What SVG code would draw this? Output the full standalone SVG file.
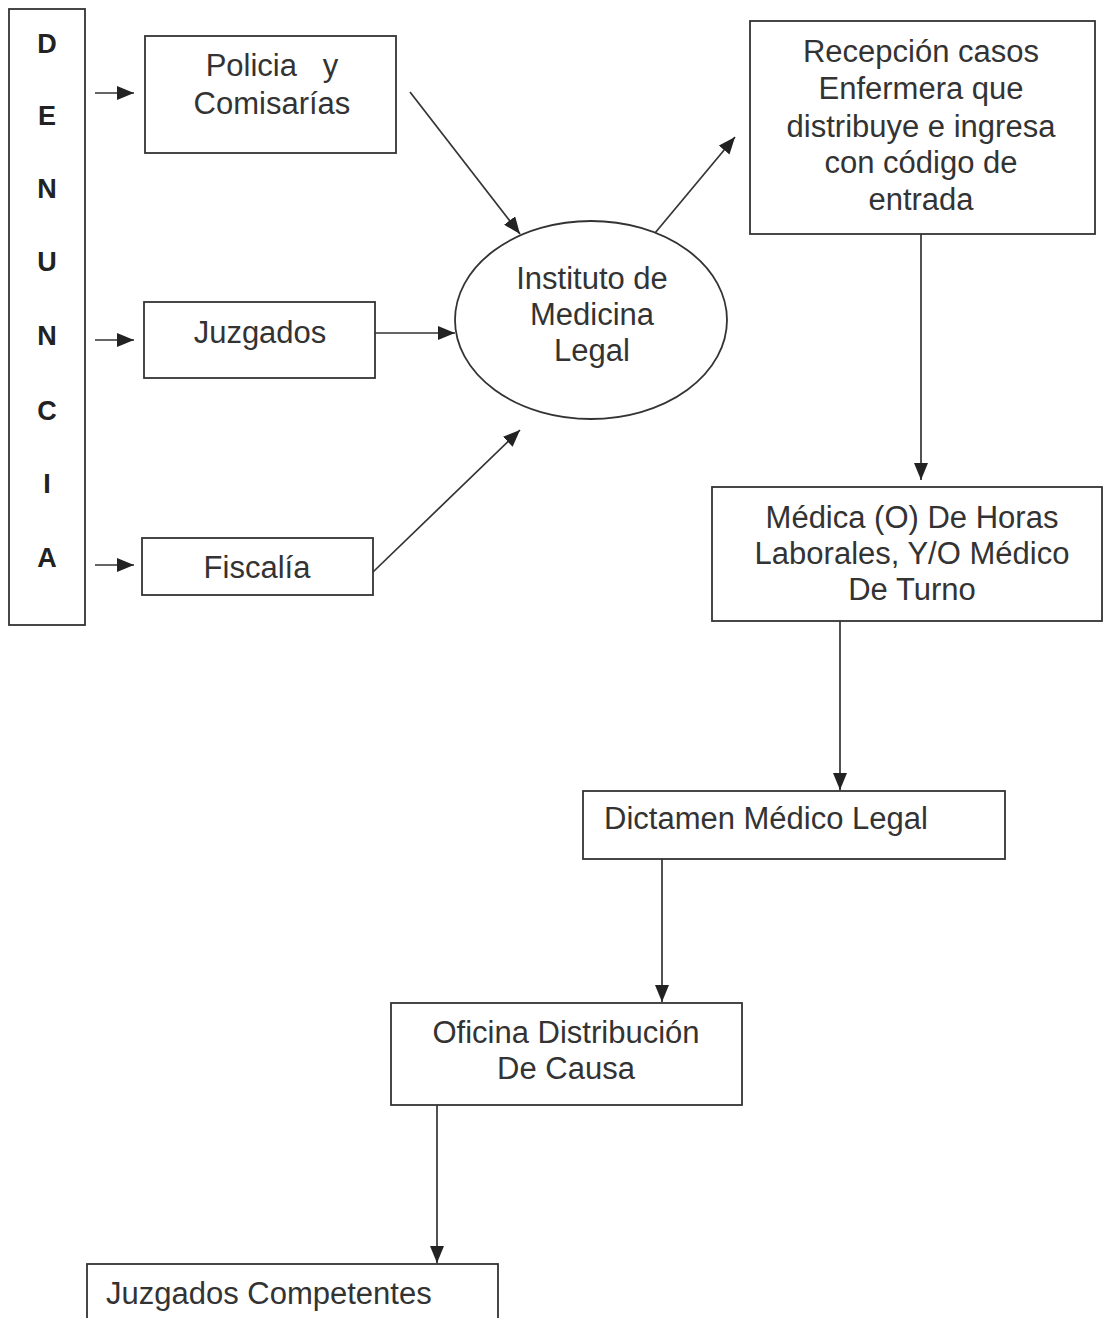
<svg xmlns="http://www.w3.org/2000/svg" width="1104" height="1318" viewBox="0 0 1104 1318">
<style>
.box{fill:#fff;stroke:#333;stroke-width:1.8}
.t{font-family:"Liberation Sans",Arial,sans-serif;font-size:31px;fill:#333;text-anchor:middle}
.tl{font-family:"Liberation Sans",Arial,sans-serif;font-size:31px;fill:#333}
.b{font-family:"Liberation Sans",Arial,sans-serif;font-size:27px;font-weight:bold;fill:#222;text-anchor:middle}
.c{stroke:#333;stroke-width:1.7;fill:none;marker-end:url(#ah)}
</style>
<defs>
<marker id="ah" markerUnits="userSpaceOnUse" markerWidth="18" markerHeight="14" refX="17" refY="7" orient="auto">
<path d="M0,0 L17,7 L0,14 z" fill="#222"/>
</marker>
</defs>
<rect width="1104" height="1318" fill="#fff"/>
<g id="denuncia">
<rect class="box" x="9" y="9" width="76" height="616"/>
<text class="b" x="47" y="53">D</text>
<text class="b" x="47" y="125">E</text>
<text class="b" x="47" y="198">N</text>
<text class="b" x="47" y="271">U</text>
<text class="b" x="47" y="345">N</text>
<text class="b" x="47" y="420">C</text>
<text class="b" x="47" y="493">I</text>
<text class="b" x="47" y="567">A</text>
</g>
<g id="policia">
<rect class="box" x="145" y="36" width="251" height="117"/>
<text class="t" x="272" y="76" xml:space="preserve">Policia   y</text>
<text class="t" x="272" y="114">Comisarías</text>
</g>
<g id="juzgados">
<rect class="box" x="144" y="302" width="231" height="76"/>
<text class="t" x="260" y="343">Juzgados</text>
</g>
<g id="fiscalia">
<rect class="box" x="142" y="538" width="231" height="57"/>
<text class="t" x="257" y="578">Fiscalía</text>
</g>
<g id="instituto">
<ellipse class="box" cx="591" cy="320" rx="136" ry="99"/>
<text class="t" x="592" y="289">Instituto de</text>
<text class="t" x="592" y="325">Medicina</text>
<text class="t" x="592" y="361">Legal</text>
</g>
<g id="recepcion">
<rect class="box" x="750" y="21" width="345" height="213"/>
<text class="t" x="921" y="62">Recepción casos</text>
<text class="t" x="921" y="99">Enfermera que</text>
<text class="t" x="921" y="137">distribuye e ingresa</text>
<text class="t" x="921" y="173">con código de</text>
<text class="t" x="921" y="210">entrada</text>
</g>
<g id="medica">
<rect class="box" x="712" y="487" width="390" height="134"/>
<text class="t" x="912" y="528">Médica (O) De Horas</text>
<text class="t" x="912" y="564">Laborales, Y/O Médico</text>
<text class="t" x="912" y="600">De Turno</text>
</g>
<g id="dictamen">
<rect class="box" x="583" y="791" width="422" height="68"/>
<text class="tl" x="604" y="829">Dictamen Médico Legal</text>
</g>
<g id="oficina">
<rect class="box" x="391" y="1003" width="351" height="102"/>
<text class="t" x="566" y="1043">Oficina Distribución</text>
<text class="t" x="566" y="1079">De Causa</text>
</g>
<g id="juzgados-competentes">
<rect class="box" x="87" y="1264" width="411" height="80"/>
<text class="tl" x="106" y="1304">Juzgados Competentes</text>
</g>
<g id="connectors">
<line class="c" x1="95" y1="93" x2="134" y2="93"/>
<line class="c" x1="95" y1="340" x2="134" y2="340"/>
<line class="c" x1="95" y1="565" x2="134" y2="565"/>
<line class="c" x1="410" y1="92" x2="520" y2="234"/>
<line class="c" x1="375" y1="333" x2="455" y2="333"/>
<line class="c" x1="373" y1="572" x2="520" y2="430"/>
<line class="c" x1="655" y1="233" x2="735" y2="137"/>
<line class="c" x1="921" y1="234" x2="921" y2="480"/>
<line class="c" x1="840" y1="621" x2="840" y2="790"/>
<line class="c" x1="662" y1="859" x2="662" y2="1002"/>
<line class="c" x1="437" y1="1105" x2="437" y2="1263"/>
</g>
</svg>
